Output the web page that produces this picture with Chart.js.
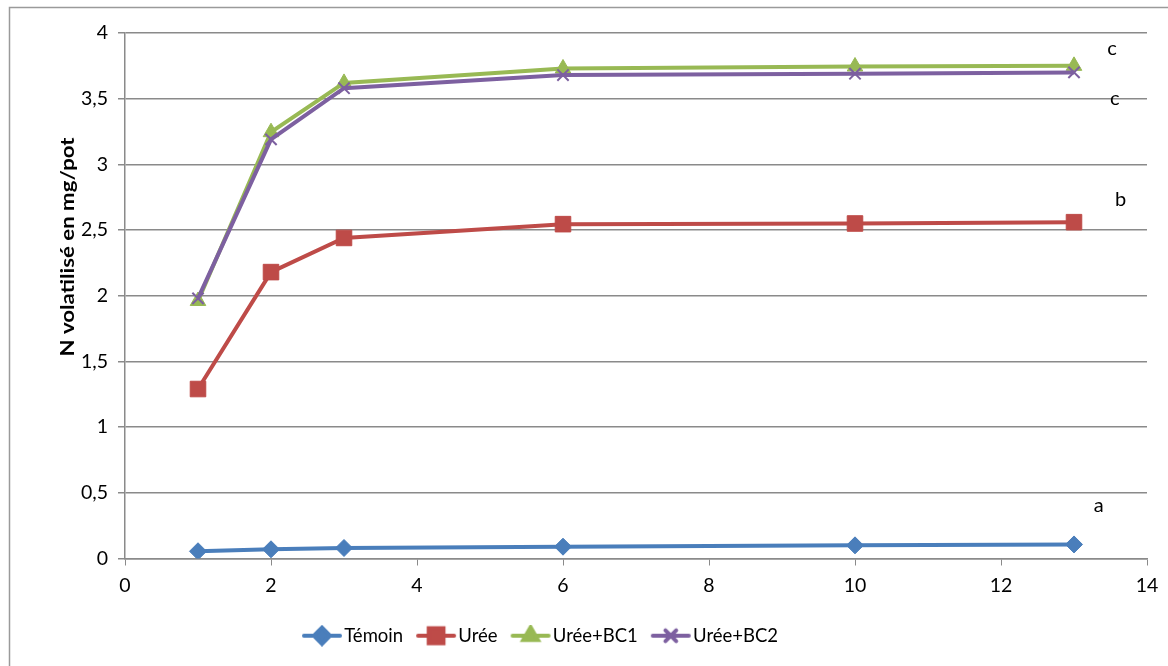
<!DOCTYPE html>
<html>
<head>
<meta charset="utf-8">
<script src="https://cdn.jsdelivr.net/npm/chart.js@4"></script>
<style>
  html, body { margin: 0; padding: 0; background: #fff; }
  #wrap { width: 1168px; height: 666px; }
</style>
</head>
<body>
<div id="wrap"><canvas id="chart" width="1168" height="666"></canvas></div>
<script>
// days after application
const days = [1, 2, 3, 6, 10, 13];

// N volatilised (mg/pot)
const temoin = [0.055, 0.07, 0.08, 0.09, 0.1, 0.107];
const uree = [1.29, 2.18, 2.44, 2.545, 2.55, 2.56];
const ureeBC1 = [1.96, 3.245, 3.62, 3.73, 3.745, 3.75];
const ureeBC2 = [1.98, 3.19, 3.58, 3.68, 3.69, 3.70];

const seriesNames = ['Témoin', 'Urée', 'Urée+BC1', 'Urée+BC2'];
const seriesColors = ['#4A7EBB', '#BE4B48', '#98B954', '#7D60A0'];

// statistical group letters beside the last points
const groupLetters = ['a', 'b', 'c', 'c'];
const letterX = [13.34, 13.64, 13.52, 13.56];
const letterY = [0.40, 2.73, 3.88, 3.50];

const yTicks = { min: 0, max: 4, step: 0.5 };
const xTicks = { min: 0, max: 14, step: 2 };

const FONT = 'Lato, "Open Sans", sans-serif';
const GRID = '#8a8a8a';

const markers = [
    { pointStyle: 'rectRot', radius: 8.5, borderWidth: 1 },
    { pointStyle: 'rect', radius: 11, borderWidth: 1 },
    { pointStyle: 'triangle', radius: 9, borderWidth: 1 },
    { pointStyle: 'crossRot', radius: 8, borderWidth: 2 }
];

const allValues = [temoin, uree, ureeBC1, ureeBC2];

const datasets = allValues.map((vals, i) => ({
    label: seriesNames[i],
    data: days.map((d, k) => ({ x: d, y: vals[k] })),
    borderColor: seriesColors[i],
    backgroundColor: seriesColors[i],
    borderWidth: 4,
    pointStyle: markers[i].pointStyle,
    pointRadius: markers[i].radius,
    pointBorderWidth: markers[i].borderWidth,
    pointBackgroundColor: seriesColors[i],
    pointBorderColor: seriesColors[i],
    tension: 0,
    order: i === 3 ? 0 : 4 - i
}));

// legend swatch: short line with the marker in the middle, like the office legend
function legendSwatch(i) {
    const c = document.createElement('canvas');
    c.width = 42;
    c.height = 22;
    const ctx = c.getContext('2d');
    ctx.strokeStyle = seriesColors[i];
    ctx.lineWidth = 4;
    ctx.lineCap = 'round';
    ctx.beginPath();
    ctx.moveTo(3, 11);
    ctx.lineTo(39, 11);
    ctx.stroke();
    ctx.fillStyle = seriesColors[i];
    Chart.helpers.drawPoint(ctx, {
        pointStyle: markers[i].pointStyle,
        radius: markers[i].radius * 0.95,
        borderWidth: markers[i].borderWidth,
        rotation: 0
    }, 21, 11);
    return c;
}

const swatches = seriesNames.map((n, i) => legendSwatch(i));

const decorPlugin = {
    id: 'decor',
    afterLayout(chart) {
        // office legend is centred a little left of the canvas middle
        chart.legend.left -= 30;
        chart.legend.right -= 30;
    },
    beforeDraw(chart) {
        const ctx = chart.ctx;
        ctx.save();
        ctx.fillStyle = '#fff';
        ctx.fillRect(0, 0, chart.width, chart.height);
        ctx.strokeStyle = '#9a9a9a';
        ctx.lineWidth = 1.5;
        ctx.strokeRect(9.5, 7.5, chart.width + 20, chart.height + 20);
        ctx.restore();
    },
    afterDraw(chart) {
        const ctx = chart.ctx;
        const xs = chart.scales.x;
        const ys = chart.scales.y;
        const area = chart.chartArea;
        ctx.save();
        ctx.fillStyle = '#000';
        ctx.font = '20px ' + FONT;
        ctx.textAlign = 'center';
        ctx.textBaseline = 'middle';
        groupLetters.forEach((t, i) => {
            ctx.fillText(t, xs.getPixelForValue(letterX[i]), ys.getPixelForValue(letterY[i]));
        });
        // axis title, placed where the spreadsheet put it (overlapping the tick labels)
        ctx.translate(68, area.top + 214);
        ctx.rotate(-Math.PI / 2);
        ctx.scale(1.17, 1);
        ctx.font = 'bold 19px ' + FONT;
        ctx.fillText('N volatilisé en mg/pot', 0, 0);
        ctx.restore();
    }
};

new Chart(document.getElementById('chart'), {
    type: 'line',
    data: { datasets: datasets },
    plugins: [decorPlugin],
    options: {
        responsive: false,
        animation: false,
        events: [],
        layout: { padding: { top: 33, right: 21, bottom: 11, left: 0 } },
        plugins: {
            tooltip: { enabled: false },
            legend: {
                position: 'bottom',
                labels: {
                    usePointStyle: true,
                    pointStyleWidth: 26,
                    padding: 20,
                    color: '#000',
                    font: { family: FONT, size: 18.5 },
                    generateLabels: (chart) => seriesNames.map((name, i) => ({
                        text: name,
                        datasetIndex: i,
                        pointStyle: swatches[i],
                        fillStyle: seriesColors[i],
                        strokeStyle: seriesColors[i],
                        lineWidth: 0,
                        hidden: false,
                        fontColor: '#000'
                    }))
                }
            }
        },
        scales: {
            x: {
                type: 'linear',
                min: xTicks.min,
                max: xTicks.max,
                afterFit: (s) => { s.height = 48; },
                ticks: {
                    stepSize: xTicks.step,
                    color: '#000',
                    padding: 9,
                    maxRotation: 0,
                    font: { family: FONT, size: 19.5 }
                },
                grid: {
                    drawOnChartArea: false,
                    drawTicks: true,
                    tickLength: 7,
                    color: GRID
                },
                border: { color: GRID, width: 1.5 }
            },
            y: {
                min: yTicks.min,
                max: yTicks.max,
                afterFit: (s) => { s.width = 125; },
                ticks: {
                    stepSize: yTicks.step,
                    color: '#000',
                    padding: 10,
                    font: { family: FONT, size: 19.5 },
                    callback: (v) => String(v).replace('.', ',')
                },
                grid: {
                    color: GRID,
                    lineWidth: 1.5,
                    tickLength: 7
                },
                border: { color: GRID, width: 1.5 }
            }
        }
    }
});
</script>
</body>
</html>
